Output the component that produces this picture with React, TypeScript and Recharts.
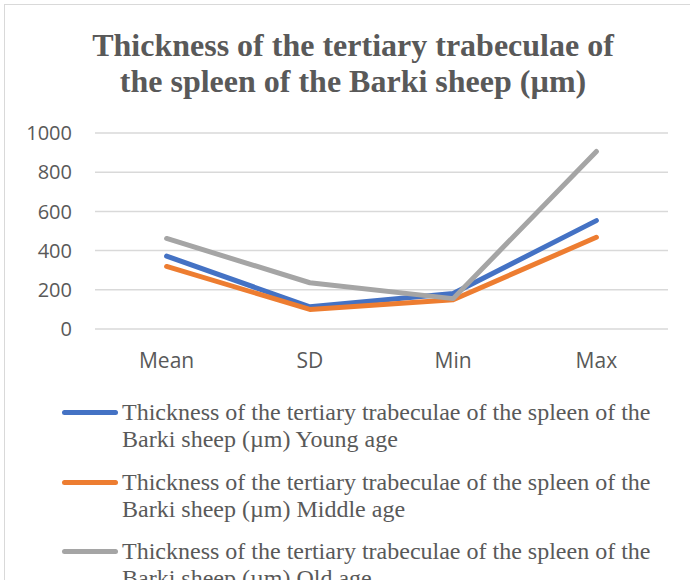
import React from "react";
import { LineChart, Line, XAxis, YAxis, CartesianGrid } from "recharts";

const categories = ["Mean", "SD", "Min", "Max"];
const youngValues = [372, 113, 181, 553];
const middleValues = [319, 100, 149, 468];
const oldValues = [462, 236, 155, 906];
const yTicks = [0, 200, 400, 600, 800, 1000];

const seriesNames = [
  "Thickness of the tertiary trabeculae of the spleen of the Barki sheep (µm) Young age",
  "Thickness of the tertiary trabeculae of the spleen of the Barki sheep (µm) Middle age",
  "Thickness of the tertiary trabeculae of the spleen of the Barki sheep (µm) Old age",
];
const seriesKeys = ["young", "middle", "old"];
const seriesColors = ["#4472C4", "#ED7D31", "#A5A5A5"];
const titleLines = [
  "Thickness of the tertiary trabeculae of",
  "the spleen of the Barki sheep (µm)",
];

const data = categories.map((c, i) => ({
  name: c,
  young: youngValues[i],
  middle: middleValues[i],
  old: oldValues[i],
}));

const serif = '"Liberation Serif", "Times New Roman", serif';
const sans = '"Open Sans", "Liberation Sans", Arial, sans-serif';

export default function App() {
  return (
    <div style={{ position: "fixed", left: 0, top: 0, width: 690, height: 580, background: "#fff", overflow: "hidden" }}>
      <div
        style={{
          position: "absolute",
          left: 4,
          top: 4,
          width: 700,
          height: 600,
          borderLeft: "1.5px solid #d9d9d9",
          borderTop: "1.5px solid #d9d9d9",
        }}
      />
      <div
        style={{
          position: "absolute",
          left: 0,
          top: 27,
          width: 706,
          textAlign: "center",
          fontFamily: serif,
          fontWeight: "bold",
          fontSize: 32,
          lineHeight: "36px",
          color: "#595959",
        }}
      >
        {titleLines.map((t, i) => (
          <div key={i}>{t}</div>
        ))}
      </div>
      <div style={{ position: "absolute", left: 0, top: 0 }}>
        <LineChart width={690} height={580} data={data} margin={{ top: 133, right: 22, bottom: 211, left: 0 }}>
          <CartesianGrid vertical={false} stroke="#d9d9d9" strokeWidth={1.5} />
          <XAxis
            dataKey="name"
            axisLine={false}
            tickLine={false}
            height={40}
            tickMargin={18}
            padding={{ left: 71.6, right: 71.6 }}
            tick={{ fill: "#595959", fontSize: 21, fontFamily: sans }}
            interval={0}
          />
          <YAxis
            domain={[0, 1000]}
            ticks={yTicks}
            axisLine={false}
            tickLine={false}
            width={95}
            tickMargin={17}
            tick={{ fill: "#595959", fontSize: 20, fontFamily: sans }}
          />
          {seriesKeys.map((k, i) => (
            <Line
              key={k}
              dataKey={k}
              name={seriesNames[i]}
              stroke={seriesColors[i]}
              strokeWidth={5}
              dot={false}
              strokeLinecap="round"
              strokeLinejoin="round"
              isAnimationActive={false}
            />
          ))}
        </LineChart>
      </div>
      {seriesNames.map((n, i) => (
        <div
          key={i}
          style={{
            position: "absolute",
            left: 0,
            top: 399 + i * 69.5,
            width: 690,
          }}
        >
          <div
            style={{
              position: "absolute",
              left: 62,
              top: 11,
              width: 56,
              height: 5,
              borderRadius: 3,
              background: seriesColors[i],
            }}
          />
          <div
            style={{
              position: "absolute",
              left: 122,
              top: 0,
              width: 550,
              fontFamily: serif,
              fontSize: 24,
              lineHeight: "27px",
              color: "#595959",
              whiteSpace: "normal",
            }}
          >
            {n}
          </div>
        </div>
      ))}
    </div>
  );
}
